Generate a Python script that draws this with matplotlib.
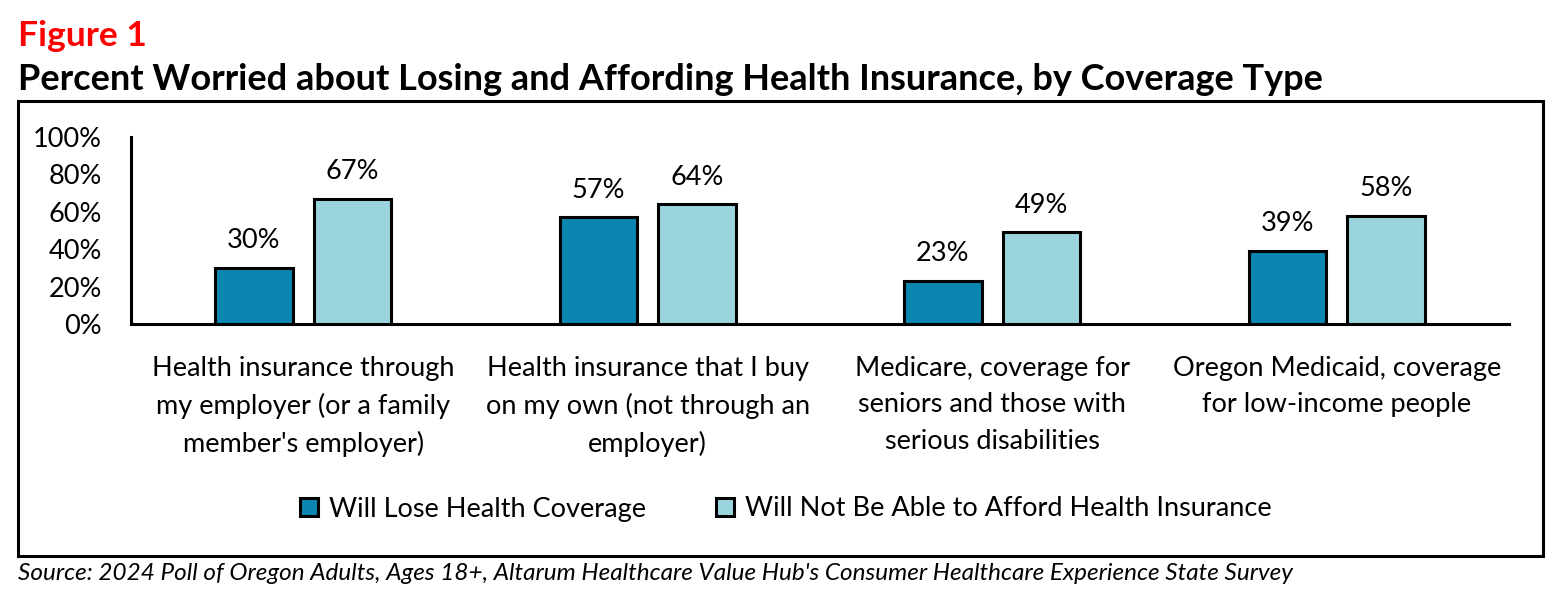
import matplotlib
matplotlib.use("Agg")
import matplotlib.pyplot as plt
from matplotlib.patches import Rectangle, Patch
import numpy as np

categories = [
    "Health insurance through\nmy employer (or a family\nmember's employer)",
    "Health insurance that I buy\non my own (not through an\nemployer)",
    "Medicare, coverage for\nseniors and those with\nserious disabilities",
    "Oregon Medicaid, coverage\nfor low-income people",
]
series_names = ["Will Lose Health Coverage", "Will Not Be Able to Afford Health Insurance"]
lose_values = [30, 57, 23, 39]
afford_values = [67, 64, 49, 58]
ytick_values = [0, 20, 40, 60, 80, 100]
ytick_labels = ["0%", "20%", "40%", "60%", "80%", "100%"]

plt.rcParams['font.family'] = ['Lato', 'DejaVu Sans']
W, H = 1564, 591
fig = plt.figure(figsize=(W / 100, H / 100), dpi=100)

dark = "#0A86B0"
light = "#9AD5DE"
fs = 19.5

ax = fig.add_axes([131 / W, 1 - 324 / H, (1509 - 131) / W, (324 - 137) / H])
x = np.arange(len(categories))
bw = 0.224
off = 0.143
b1 = ax.bar(x - off, lose_values, bw, color=dark, edgecolor="black", linewidth=2.2, zorder=3)
b2 = ax.bar(x + off, afford_values, bw, color=light, edgecolor="black", linewidth=2.2, zorder=3)
for rects, vals in ((b1, lose_values), (b2, afford_values)):
    for r, v in zip(rects, vals):
        ax.annotate(f"{v}%", (r.get_x() + r.get_width() / 2, v), xytext=(0, 10.5),
                    textcoords="offset points", ha="center", va="bottom", fontsize=fs)

ax.set_xlim(-0.5, len(categories) - 0.5)
ax.set_ylim(0, 100)
ax.set_yticks(ytick_values)
ax.set_yticklabels(ytick_labels, fontsize=fs)
ax.set_xticks(x)
ax.set_xticklabels(categories, fontsize=fs, linespacing=1.57, va="top")
ax.tick_params(axis="both", length=0)
ax.tick_params(axis="y", pad=21)
ax.tick_params(axis="x", pad=23)
for s in ("top", "right"):
    ax.spines[s].set_visible(False)
for s in ("left", "bottom"):
    ax.spines[s].set_linewidth(2.2)

handles = [Patch(facecolor=dark, edgecolor="black", linewidth=2.2),
           Patch(facecolor=light, edgecolor="black", linewidth=2.2)]
fig.legend(handles, series_names, loc="center", bbox_to_anchor=(786 / W, 1 - 509 / H),
           ncol=2, frameon=False, fontsize=fs, handlelength=0.66, handleheight=0.66,
           handletextpad=0.4, columnspacing=2.6)

fig.patches.append(Rectangle((18 / W, 1 - 556 / H), (1543 - 18) / W, (556 - 101) / H,
                             transform=fig.transFigure, fill=False, edgecolor="black",
                             linewidth=2.2, zorder=0))

fig.text(18 / W, 1 - 46 / H, "Figure 1", color="#FF0000", fontsize=25.5, fontweight="bold",
         ha="left", va="baseline")
fig.text(18 / W, 1 - 90 / H, "Percent Worried about Losing and Affording Health Insurance, by Coverage Type",
         color="black", fontsize=26, fontweight="bold", ha="left", va="baseline")
fig.text(18 / W, 1 - 580 / H,
         "Source: 2024 Poll of Oregon Adults, Ages 18+, Altarum Healthcare Value Hub's Consumer Healthcare Experience State Survey",
         fontsize=17.5, style="italic", ha="left", va="baseline")

fig.savefig("out.png", dpi=100)
